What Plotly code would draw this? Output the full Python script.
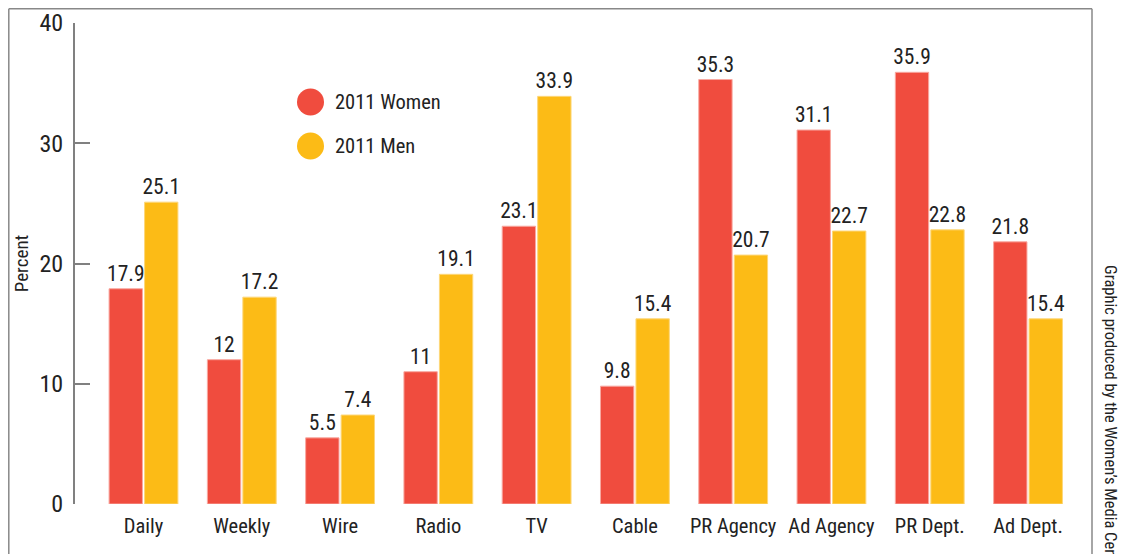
import plotly.graph_objects as go

categories = ["Daily", "Weekly", "Wire", "Radio", "TV", "Cable",
              "PR Agency", "Ad Agency", "PR Dept.", "Ad Dept."]
women = [17.9, 12, 5.5, 11, 23.1, 9.8, 35.3, 31.1, 35.9, 21.8]
men = [25.1, 17.2, 7.4, 19.1, 33.9, 15.4, 20.7, 22.7, 22.8, 15.4]
series_names = ["2011 Women", "2011 Men"]
series_colors = ["#F04C3E", "#FCBB16"]
edge_colors = ["#F8A8A0", "#FDD77A"]
y_ticks = [0, 10, 20, 30, 40]

FONT = "Roboto Condensed, DejaVu Sans Condensed, sans-serif"
TXT = "#222222"

fig = go.Figure()
for name, vals, col, edge in zip(series_names, [women, men], series_colors, edge_colors):
    fig.add_trace(go.Bar(
        x=categories, y=vals, name=name,
        marker=dict(color=col, line=dict(color=edge, width=1)),
        texttemplate="%{y}", textposition="outside", constraintext="none",
        textfont=dict(family=FONT, size=21.5, color=TXT),
        cliponaxis=False, showlegend=False, hoverinfo="skip",
    ))

# page body adds an 8px offset; positions below are in screen pixels
OFF = 8
W, H = 1126, 554
L, T = 75 - OFF, 23 - OFF
R = W - (1092 - OFF)
B = H - (504 - OFF)
pw, ph = W - L - R, H - T - B

def px(x):
    return (x - OFF - L) / pw

def py(y):
    return (H - B - (y - OFF)) / ph

FRAME = "#888888"
shapes = [
    dict(type="line", xref="paper", yref="paper", x0=px(8.8), x1=px(8.8), y0=py(8.8), y1=py(620),
         line=dict(color=FRAME, width=1.5)),
    dict(type="line", xref="paper", yref="paper", x0=px(8.8), x1=px(1092), y0=py(8.8), y1=py(8.8),
         line=dict(color=FRAME, width=1.5)),
    dict(type="line", xref="paper", yref="paper", x0=px(1092), x1=px(1092), y0=py(8.8), y1=py(620),
         line=dict(color=FRAME, width=1.5)),
]

annotations = []
for i, (name, col) in enumerate(zip(series_names, series_colors)):
    cy = 102 + i * 44
    shapes.append(dict(type="circle", xref="paper", yref="paper",
                       x0=px(297), x1=px(324), y0=py(cy - 13.5), y1=py(cy + 13.5),
                       fillcolor=col, line=dict(width=0)))
    annotations.append(dict(xref="paper", yref="paper", x=px(333), y=py(cy),
                            xanchor="left", yanchor="middle", showarrow=False,
                            text=name, font=dict(family=FONT, size=20.5, color=TXT)))

annotations.append(dict(xref="paper", yref="paper", x=px(1111), y=py(263),
                        xanchor="center", yanchor="top", showarrow=False, textangle=90,
                        text="Graphic produced by the Women\u2019s Media Center",
                        font=dict(family=FONT, size=16.5, color=TXT)))

fig.update_layout(
    width=W, height=H,
    margin=dict(l=L, r=R, t=T, b=B, autoexpand=False),
    paper_bgcolor="white", plot_bgcolor="white",
    barmode="group", bargap=0.278, bargroupgap=0.06,
    showlegend=False,
    shapes=shapes, annotations=annotations,
    xaxis=dict(range=[-0.697, 9.651], showgrid=False, zeroline=False, showline=False,
               ticks="", ticklabelstandoff=7, tickangle=0, automargin=False,
               tickfont=dict(family=FONT, size=20.5, color=TXT)),
    yaxis=dict(range=[0, 40], tickvals=y_ticks, showgrid=False, zeroline=False,
               showline=True, linecolor="#808080", linewidth=2,
               ticks="inside", ticklen=15, tickwidth=1.5, tickcolor="#808080",
               ticklabelstandoff=5, automargin=False,
               tickfont=dict(family=FONT, size=24, color=TXT),
               title=dict(text="Percent", standoff=6,
                          font=dict(family=FONT, size=19, color=TXT))),
)

fig.write_html("out.html")
